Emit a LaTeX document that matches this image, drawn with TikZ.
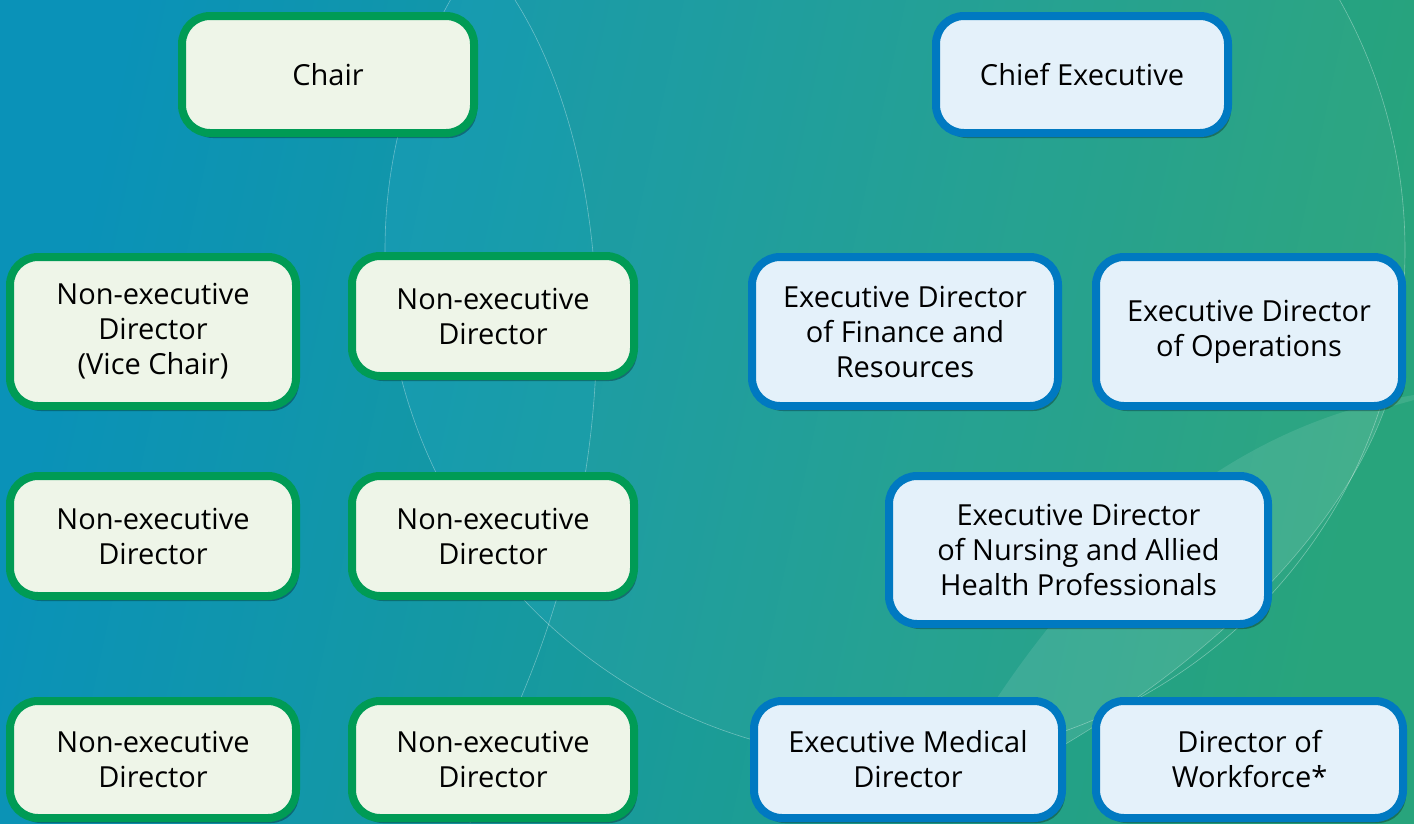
\documentclass[tikz,border=0pt]{standalone}
\usepackage{fontspec}
\setmainfont{Open Sans}
\usetikzlibrary{shadows}

\definecolor{bgL}{HTML}{0A92B8}
\definecolor{bgM}{HTML}{00989F}
\definecolor{bgR}{HTML}{28A47C}
\definecolor{negreen}{HTML}{009B55}
\definecolor{nefill}{HTML}{EEF5E8}
\definecolor{exblue}{HTML}{0079C1}
\definecolor{exfill}{HTML}{E4F1FA}

\begin{document}
\begin{tikzpicture}[x=1pt,y=-1pt,
  box/.style={draw,line width=8pt,rounded corners=28pt,align=center,inner sep=0pt,
    font=\fontsize{29}{35}\selectfont,
    drop shadow={shadow xshift=3pt,shadow yshift=-5pt,opacity=.3,fill=black}},
  ne/.style={box,draw=negreen,fill=nefill},
  ex/.style={box,draw=exblue,fill=exfill}]
  % background
  \shade[left color=bgL,middle color=bgM,right color=bgR,shading angle=78] (0,0) rectangle (1414,823);
  \useasboundingbox (0,0) rectangle (1414,823);
  \fill[white,opacity=.03] (895,250) circle (510);
  \begin{scope}
    \clip (0,0) -- (515,0) .. controls (610,150) and (635,430) .. (520,700)
      -- (470,823) -- (0,823) -- cycle;
    \fill[cyan,opacity=.08] (895,250) circle (510);
  \end{scope}
  \draw[white,opacity=.35,line width=.6pt] (895,250) circle (510);
  \draw[white,opacity=.35,line width=.6pt] (515,0) .. controls (610,150) and (635,430) .. (520,700) -- (470,823);
  \fill[white,opacity=.1] (930,812) .. controls (1040,600) and (1200,430) .. (1414,395)
    -- (1414,400) -- (1385,408) .. controls (1330,560) and (1150,720) .. cycle;
  \draw[white,opacity=.3,line width=.6pt] (1385,408) .. controls (1330,560) and (1150,720) .. (930,812);
  % non-executive side
  \node[ne,minimum width=292,minimum height=117] (chair) at (328,74.5) {Chair};
  \node[ne,minimum width=286,minimum height=149] (ned1) at (153,331.5) {Non-executive\\Director\\(Vice Chair)};
  \node[ne,minimum width=282,minimum height=120] (ned2) at (493,316) {Non-executive\\Director};
  \node[ne,minimum width=286,minimum height=120] (ned3) at (153,536) {Non-executive\\Director};
  \node[ne,minimum width=282,minimum height=120] (ned4) at (493,536) {Non-executive\\Director};
  \node[ne,minimum width=286,minimum height=117] (ned5) at (153,759.5) {Non-executive\\Director};
  \node[ne,minimum width=282,minimum height=117] (ned6) at (493,759.5) {Non-executive\\Director};
  % executive side
  \node[ex,minimum width=292,minimum height=117] (ceo) at (1082,74.5) {Chief Executive};
  \node[ex,minimum width=306,minimum height=149] (fin) at (905,331.5) {Executive Director\\of Finance and\\Resources};
  \node[ex,minimum width=306,minimum height=149] (ops) at (1249,331.5) {Executive Director\\of Operations};
  \node[ex,minimum width=379,minimum height=148] (nah) at (1078.5,550) {Executive Director\\of Nursing and Allied\\Health Professionals};
  \node[ex,minimum width=308,minimum height=117] (med) at (908,759.5) {Executive Medical\\Director};
  \node[ex,minimum width=307,minimum height=117] (wf) at (1249.5,759.5) {Director of\\Workforce*};
\end{tikzpicture}
\end{document}
